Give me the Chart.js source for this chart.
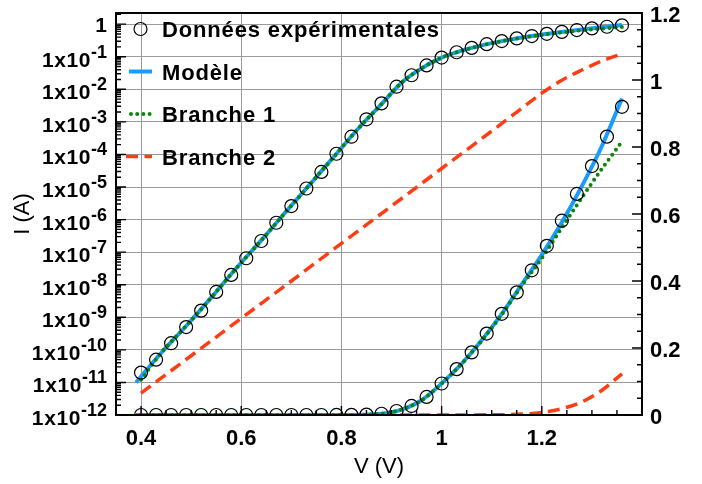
<!DOCTYPE html>
<html><head><meta charset="utf-8">
<script src="https://cdn.jsdelivr.net/npm/chart.js@4/dist/chart.umd.min.js"></script>
<style>html,body{margin:0;padding:0;background:#fff}canvas{display:block}</style>
</head><body>
<canvas id="c" width="702" height="484"></canvas>
<script>
// ---------- data ----------
const V_exp = [0.40,0.43,0.46,0.49,0.52,0.55,0.58,0.61,0.64,0.67,0.70,0.73,0.76,0.79,0.82,0.85,0.88,
               0.91,0.94,0.97,1.00,1.03,1.06,1.09,1.12,1.15,1.18,1.21,1.24,1.27,1.30,1.33,1.36];
const I_exp = [2.0e-11,5.0e-11,1.6e-10,5.0e-10,1.6e-9,6.0e-9,2.0e-8,6.5e-8,2.2e-7,8.0e-7,2.6e-6,9.0e-6,
               2.9e-5,1.05e-4,3.5e-4,1.2e-3,3.7e-3,0.012,0.027,0.054,0.094,0.137,0.187,0.243,0.302,
               0.366,0.432,0.505,0.580,0.660,0.743,0.831,0.920];

const V_model = [0.39,0.44,0.49,0.54,0.59,0.64,0.69,0.74,0.79,0.84,0.88,0.92,0.96,1.00,1.04,1.08,1.12,1.16,1.20,1.24,1.28,1.32,1.36];
const I_model = [1.0e-11,8e-11,5.4e-10,4e-9,3.2e-8,2.3e-7,1.8e-6,1.35e-5,1.05e-4,8e-4,3.5e-3,0.016,0.044,
                 0.094,0.153,0.223,0.302,0.390,0.478,0.575,0.683,0.803,0.945];

const V_b1 = [0.40,0.44,0.49,0.54,0.59,0.64,0.69,0.74,0.79,0.84,0.88,0.92,0.96,1.00,1.04,1.08,1.12,1.16,1.20,1.24,1.28,1.32,1.36];
const I_b1 = [1.2e-11,8e-11,5.4e-10,4e-9,3.2e-8,2.3e-7,1.8e-6,1.35e-5,1.05e-4,8e-4,3.5e-3,0.016,0.044,
              0.094,0.153,0.222,0.300,0.386,0.468,0.559,0.649,0.735,0.816];

const V_b2 = [0.40,0.50,0.60,0.70,0.80,0.90,1.00,1.10,1.15,1.20,1.24,1.28,1.32,1.36];
const I_b2 = [4.7e-12,6.6e-11,9.3e-10,1.3e-8,1.85e-7,2.6e-6,3.7e-5,5.2e-4,2.0e-3,7.6e-3,0.019,0.039,0.074,0.123];

const xTicks = [0.4,0.6,0.8,1.0,1.2];
const xTickLabels = ['0.4','0.6','0.8','1','1.2'];
const yExponents = [-12,-11,-10,-9,-8,-7,-6,-5,-4,-3,-2,-1,0];
const y2Ticks = [0,0.2,0.4,0.6,0.8,1.0,1.2];
const y2TickLabels = ['0','0.2','0.4','0.6','0.8','1','1.2'];
const legendLabels = ['Données expérimentales','Modèle','Branche 1','Branche 2'];
const xTitle = 'V (V)';
const yTitle = 'I (A)';

// ---------- styles ----------
const FONT = '"Liberation Sans", Arial, Helvetica, sans-serif';
const BLUE = '#1a9bff', GREEN = '#0a870a', RED = '#ff3d14';
const pts = (V, I) => V.map((v, i) => ({x: v, y: I[i]}));

const expStyle = {showLine:false, pointStyle:'circle', pointRadius:6.5, pointHoverRadius:6.5,
  pointBorderColor:'#000', pointBackgroundColor:'rgba(0,0,0,0)', pointBorderWidth:1.2, borderColor:'#000'};
const modelStyle = {borderColor:BLUE, borderWidth:4, pointRadius:0, cubicInterpolationMode:'monotone', fill:false};
const b1Style = {borderColor:GREEN, borderWidth:4, borderDash:[0,6.2], borderCapStyle:'round', pointRadius:0, cubicInterpolationMode:'monotone', fill:false};
const b2Style = {borderColor:RED, borderWidth:3.5, borderDash:[12,6.5], borderCapStyle:'butt', pointRadius:0, cubicInterpolationMode:'monotone', fill:false};

const deco = {
  id: 'deco',
  afterDraw(chart) {
    const {ctx, chartArea: a, scales: {x, y, y2}} = chart;
    ctx.save();
    // inward ticks
    ctx.strokeStyle = '#000'; ctx.lineWidth = 1.4;
    ctx.beginPath();
    for (const k of yExponents) {
      for (let m = 1; m <= 9; m++) {
        const v = m * Math.pow(10, k);
        if (v > y.max) break;
        const py = y.getPixelForValue(v);
        const L = m === 1 ? 10 : 5;
        ctx.moveTo(a.left, py); ctx.lineTo(a.left + L, py);
      }
    }
    for (let i = 0; i <= 24; i++) {
      const v = i * 0.05;
      const py = y2.getPixelForValue(v);
      const L = (i % 4 === 0) ? 10 : 5;
      ctx.moveTo(a.right, py); ctx.lineTo(a.right - L, py);
    }
    for (let i = 7; i <= 28; i++) {
      const v = i * 0.05;
      const px = x.getPixelForValue(v);
      const L = (i % 4 === 0) ? 9 : 5;
      ctx.moveTo(px, a.bottom); ctx.lineTo(px, a.bottom - L);
    }
    ctx.stroke();
    // frame
    ctx.lineWidth = 2;
    ctx.strokeRect(a.left, a.top, a.right - a.left, a.bottom - a.top);

    // left tick labels
    ctx.fillStyle = '#000';
    const lx = a.left - 9;
    for (const k of yExponents) {
      const py = y.getPixelForValue(Math.pow(10, k));
      ctx.textAlign = 'right'; ctx.textBaseline = 'alphabetic';
      if (k === 0) {
        ctx.font = 'bold 21px ' + FONT;
        ctx.fillText('1', lx, py + 8);
      } else {
        const e = '-' + Math.abs(k);
        ctx.font = 'bold 18px ' + FONT;
        ctx.letterSpacing = '0px';
        const ew = ctx.measureText(e).width;
        ctx.fillText(e, lx, py + 1);
        ctx.font = 'bold 21px ' + FONT;
        ctx.letterSpacing = '0.6px';
        ctx.fillText('1x10', lx - ew, py + 10);
        ctx.letterSpacing = '0px';
      }
    }
    // right tick labels
    ctx.font = 'bold 22px ' + FONT; ctx.textAlign = 'left'; ctx.textBaseline = 'alphabetic';
    y2Ticks.forEach((v, i) => {
      const py = y2.getPixelForValue(v);
      ctx.fillText(y2TickLabels[i], a.right + 8, py + 9);
    });
    // bottom tick labels
    ctx.textAlign = 'center';
    xTicks.forEach((v, i) => {
      ctx.fillText(xTickLabels[i], x.getPixelForValue(v), a.bottom + 30);
    });
    // axis titles
    ctx.font = '22px ' + FONT;
    ctx.fillText(xTitle, (a.left + a.right) / 2, a.bottom + 58);
    ctx.save();
    ctx.translate(29, (a.top + a.bottom) / 2);
    ctx.rotate(-Math.PI / 2);
    ctx.textAlign = 'center';
    ctx.fillText(yTitle, 0, 0);
    ctx.restore();

    // legend
    const rows = [29, 71.5, 114, 156.5];
    const sx0 = a.left + 13, sx1 = a.left + 36, tx = a.left + 46;
    ctx.beginPath(); ctx.lineWidth = 1.2; ctx.strokeStyle = '#000';
    ctx.arc((sx0 + sx1) / 2, rows[0], 6.5, 0, Math.PI * 2); ctx.stroke();
    ctx.beginPath(); ctx.lineWidth = 4; ctx.strokeStyle = BLUE; ctx.setLineDash([]); ctx.lineCap = 'butt';
    ctx.moveTo(sx0, rows[1]); ctx.lineTo(sx1, rows[1]); ctx.stroke();
    ctx.beginPath(); ctx.lineWidth = 4; ctx.strokeStyle = GREEN; ctx.setLineDash([0, 6.2]); ctx.lineCap = 'round';
    ctx.moveTo(sx0 + 2, rows[2]); ctx.lineTo(sx1, rows[2]); ctx.stroke();
    ctx.beginPath(); ctx.lineWidth = 3.5; ctx.strokeStyle = RED; ctx.setLineDash([12, 6.5]); ctx.lineCap = 'butt';
    ctx.moveTo(sx0 - 3, rows[3]); ctx.lineTo(sx1, rows[3]); ctx.stroke();
    ctx.setLineDash([]);
    ctx.font = 'bold 22px ' + FONT; ctx.textAlign = 'left'; ctx.textBaseline = 'alphabetic'; ctx.fillStyle = '#000';
    ctx.letterSpacing = '0.85px';
    legendLabels.forEach((t, i) => ctx.fillText(t, tx, rows[i] + 8));
    ctx.letterSpacing = '0px';
    ctx.restore();
  }
};

new Chart(document.getElementById('c'), {
  type: 'line',
  data: {
    datasets: [
      {label: legendLabels[0], data: pts(V_exp, I_exp), yAxisID: 'y', ...expStyle},
      {label: legendLabels[0] + ' (lin)', data: pts(V_exp, I_exp), yAxisID: 'y2', ...expStyle},
      {label: legendLabels[2], data: pts(V_b1, I_b1), yAxisID: 'y', ...b1Style},
      {label: legendLabels[2] + ' (lin)', data: pts(V_b1, I_b1), yAxisID: 'y2', ...b1Style},
      {label: legendLabels[1], data: pts(V_model, I_model), yAxisID: 'y', ...modelStyle},
      {label: legendLabels[1] + ' (lin)', data: pts(V_model, I_model), yAxisID: 'y2', ...modelStyle},
      {label: legendLabels[3], data: pts(V_b2, I_b2), yAxisID: 'y', ...b2Style},
      {label: legendLabels[3] + ' (lin)', data: pts(V_b2, I_b2), yAxisID: 'y2', ...b2Style}
    ]
  },
  options: {
    responsive: false, animation: false, devicePixelRatio: 1,
    layout: {padding: {left: 116, right: 60, top: 13, bottom: 69}},
    plugins: {legend: {display: false}, tooltip: {enabled: false}},
    scales: {
      x: {type: 'linear', min: 0.35, max: 1.4,
          afterBuildTicks: s => { s.ticks = xTicks.map(v => ({value: v})); },
          ticks: {display: false}, border: {display: false},
          grid: {color: '#9a9a9a', lineWidth: 1, drawTicks: false}},
      y: {type: 'logarithmic', position: 'left', min: 1e-12, max: 2.2,
          afterBuildTicks: s => { s.ticks = yExponents.map(k => ({value: Math.pow(10, k)})); },
          ticks: {display: false}, border: {display: false},
          grid: {color: '#9a9a9a', lineWidth: 1, drawTicks: false}},
      y2: {type: 'linear', position: 'right', min: 0, max: 1.2,
          ticks: {display: false}, border: {display: false},
          grid: {display: false, drawTicks: false}}
    }
  },
  plugins: [deco]
});
</script>
</body></html>
